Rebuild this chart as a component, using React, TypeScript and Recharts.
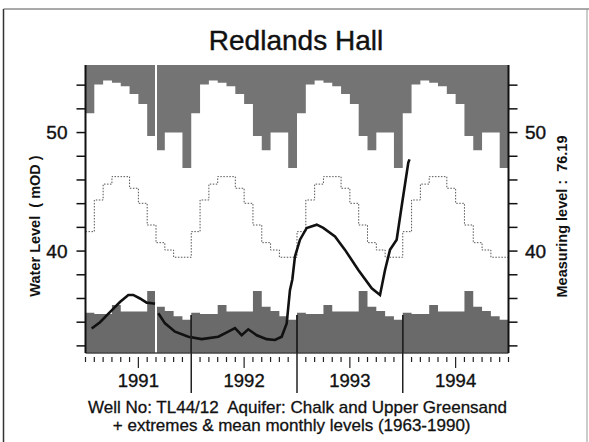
import React from 'react';
import { ComposedChart, Area, Line, XAxis, YAxis, ReferenceLine } from 'recharts';

// ---- data ----
const years = ['1991', '1992', '1993', '1994'];
// long-term (1963-1990) monthly statistics, Jan..Dec (mOD)
const maxMonthly = [51.63, 54.05, 54.4, 54.2, 53.9, 53.25, 52.4, 49.7, 48.5, 50.0, 50.0, 47.0];
const meanMonthly = [41.64, 44.31, 45.65, 46.28, 46.28, 45.3, 44.03, 42.2, 40.71, 40.09, 39.48, 39.48];
const minMonthly = [34.8, 34.7, 34.7, 35.45, 34.9, 34.9, 34.9, 36.63, 35.3, 34.95, 34.5, 34.2];
// observed water level; time in months since Jan 1991
const levelMonth = [0.7, 1.65, 2.97, 3.91, 4.86, 5.42, 6.18, 6.94, 7.51, 7.89, 8.0, 8.26, 9.02, 10.16, 11.67, 13.19, 15.07, 16.2, 16.96, 17.72, 18.47, 19.43, 20.56, 21.5, 22.26, 22.83, 23.2, 23.47, 23.77, 24.34, 25.1, 26.24, 26.98, 28.31, 29.45, 30.96, 32.48, 33.42, 33.99, 34.55, 35.31, 35.88, 36.63, 36.77];
const levelValue = [33.47, 34.0, 35.0, 35.7, 36.3, 36.3, 36.0, 35.65, 35.6, 35.55, null, 34.75, 33.9, 33.2, 32.77, 32.57, 32.77, 33.2, 33.5, 32.9, 33.4, 32.9, 32.57, 32.5, 32.77, 33.9, 36.7, 37.6, 39.55, 40.96, 41.95, 42.23, 41.95, 41.24, 40.1, 38.4, 36.86, 36.3, 38.4, 40.1, 40.96, 43.8, 47.46, 47.74];
const yTicks = [32, 34, 36, 38, 40, 42, 44, 46, 48, 50, 52, 54];
const yLabelled = [40, 50];

const YTOP = 55.7;
const YBOT = 31.4;
const NM = years.length * 12;

const bandData = Array.from({ length: NM + 1 }, (_, i) => {
  const m = i < NM ? i % 12 : 11;
  return { t: i, max: maxMonthly[m], mean: meanMonthly[m], min: minMonthly[m] };
});
const levelData = levelMonth.map((t, i) => ({ t, level: levelValue[i] }));
const xTicks = Array.from({ length: NM + 1 }, (_, i) => i);

const FONT = '"Liberation Sans", Arial, Helvetica, sans-serif';
const INK = '#111';

const XTick = (props: any) => {
  const { x, y, payload } = props;
  const v = payload.value;
  if (v % 12 === 0 && v > 0 && v < NM) {
    return <line x1={x} x2={x} y1={y - 38} y2={y + 40} stroke="#222" strokeWidth={1.5} />;
  }
  if (v % 12 === 6) {
    return (
      <g>
        <line x1={x} x2={x} y1={y + 4} y2={y + 15} stroke="#222" strokeWidth={1.2} />
        <text x={x} y={y + 33.5} textAnchor="middle" fontSize={18.5} fontFamily={FONT} fill={INK} stroke={INK} strokeWidth={0.35}>
          {years[Math.floor(v / 12)]}
        </text>
      </g>
    );
  }
  return <line x1={x} x2={x} y1={y + 4} y2={y + 9} stroke="#222" strokeWidth={1.2} />;
};

const fmt = (v: number) => (yLabelled.includes(v) ? String(v) : '');
const yTickStyle = { fontSize: 19, fontFamily: FONT, fill: INK, stroke: INK, strokeWidth: 0.4 };

export default function App() {
  return (
    <div style={{ position: 'absolute', left: 0, top: 0, width: 589, height: 442, background: '#fff' }}>
      <ComposedChart width={589} height={442} data={bandData} margin={{ top: 65, right: 0, bottom: 0, left: 0 }}>
        <XAxis
          dataKey="t"
          type="number"
          domain={[0, NM]}
          allowDataOverflow
          ticks={xTicks}
          interval={0}
          height={89}
          tickSize={0}
          tickMargin={0}
          tickLine={false}
          axisLine={{ stroke: '#444', strokeWidth: 1.5 }}
          tick={<XTick />}
        />
        <YAxis
          yAxisId="left"
          orientation="left"
          width={85.5}
          domain={[YBOT, YTOP]}
          allowDataOverflow
          ticks={yTicks}
          interval={0}
          tickFormatter={fmt}
          tickSize={9}
          tickMargin={9}
          tickLine={{ stroke: INK, strokeWidth: 1.5 }}
          axisLine={{ stroke: INK, strokeWidth: 2 }}
          tick={yTickStyle}
        />
        <YAxis
          yAxisId="right"
          orientation="right"
          width={80.5}
          domain={[YBOT, YTOP]}
          allowDataOverflow
          ticks={yTicks}
          interval={0}
          tickFormatter={fmt}
          tickSize={9}
          tickMargin={7.5}
          tickLine={{ stroke: INK, strokeWidth: 1.5 }}
          axisLine={{ stroke: INK, strokeWidth: 2 }}
          tick={yTickStyle}
        />
        <Area yAxisId="left" type="stepAfter" dataKey="max" baseValue={YTOP} fill="#747474" fillOpacity={1} stroke="none" isAnimationActive={false} />
        <Area yAxisId="left" type="stepAfter" dataKey="min" baseValue={YBOT} fill="#6a6a6a" fillOpacity={1} stroke="none" isAnimationActive={false} />
        <Line yAxisId="left" type="stepAfter" dataKey="mean" stroke="#555" strokeWidth={1} strokeDasharray="1.5 1.5" dot={false} isAnimationActive={false} />
        <ReferenceLine yAxisId="left" segment={[{ x: 8, y: YTOP }, { x: 8, y: 48.2 }]} stroke="#fff" strokeWidth={2} />
        <ReferenceLine yAxisId="left" segment={[{ x: 8, y: YBOT }, { x: 8, y: 36.8 }]} stroke="#fff" strokeWidth={2} />
        {[12, 24, 36].map((m) => (
          <ReferenceLine key={m} yAxisId="left" segment={[{ x: m, y: YBOT }, { x: m, y: 34.6 }]} stroke="#222" strokeWidth={1.5} />
        ))}
        <Line yAxisId="left" data={levelData} type="linear" dataKey="level" stroke={INK} strokeWidth={2.6} dot={false} connectNulls={false} isAnimationActive={false} />
      </ComposedChart>
      <svg width={589} height={442} style={{ position: 'absolute', left: 0, top: 0, pointerEvents: 'none' }}>
        <line x1={3.5} x2={3.5} y1={9} y2={442} stroke="#333" strokeWidth={1.5} />
        <line x1={3.5} x2={589} y1={9} y2={9} stroke="#555" strokeWidth={1} />
        <line x1={587} x2={587} y1={9} y2={442} stroke="#999" strokeWidth={1} />
        <text x={296} y={50} textAnchor="middle" fontSize={28} fontFamily={FONT} fill={INK} stroke={INK} strokeWidth={0.4}>Redlands Hall</text>
        <text x={40} y={226} textAnchor="middle" fontSize={14.5} fontWeight="bold" fontFamily={FONT} fill={INK} transform="rotate(-90 40 226)" style={{ whiteSpace: 'pre' }}>
          {'Water Level  ( mOD )'}
        </text>
        <text x={567} y={216.5} textAnchor="middle" fontSize={14.5} fontWeight="bold" fontFamily={FONT} fill={INK} transform="rotate(-90 567 216.5)" style={{ whiteSpace: 'pre' }}>
          {'Measuring level :  76.19'}
        </text>
        <text x={297.5} y={413} textAnchor="middle" fontSize={17} fontFamily={FONT} fill={INK} stroke={INK} strokeWidth={0.3} style={{ whiteSpace: 'pre' }}>
          {'Well No: TL44/12  Aquifer: Chalk and Upper Greensand'}
        </text>
        <text x={291.7} y={430.5} textAnchor="middle" fontSize={17} fontFamily={FONT} fill={INK} stroke={INK} strokeWidth={0.3} style={{ whiteSpace: 'pre' }}>
          {'+ extremes & mean monthly levels (1963-1990)'}
        </text>
      </svg>
    </div>
  );
}
